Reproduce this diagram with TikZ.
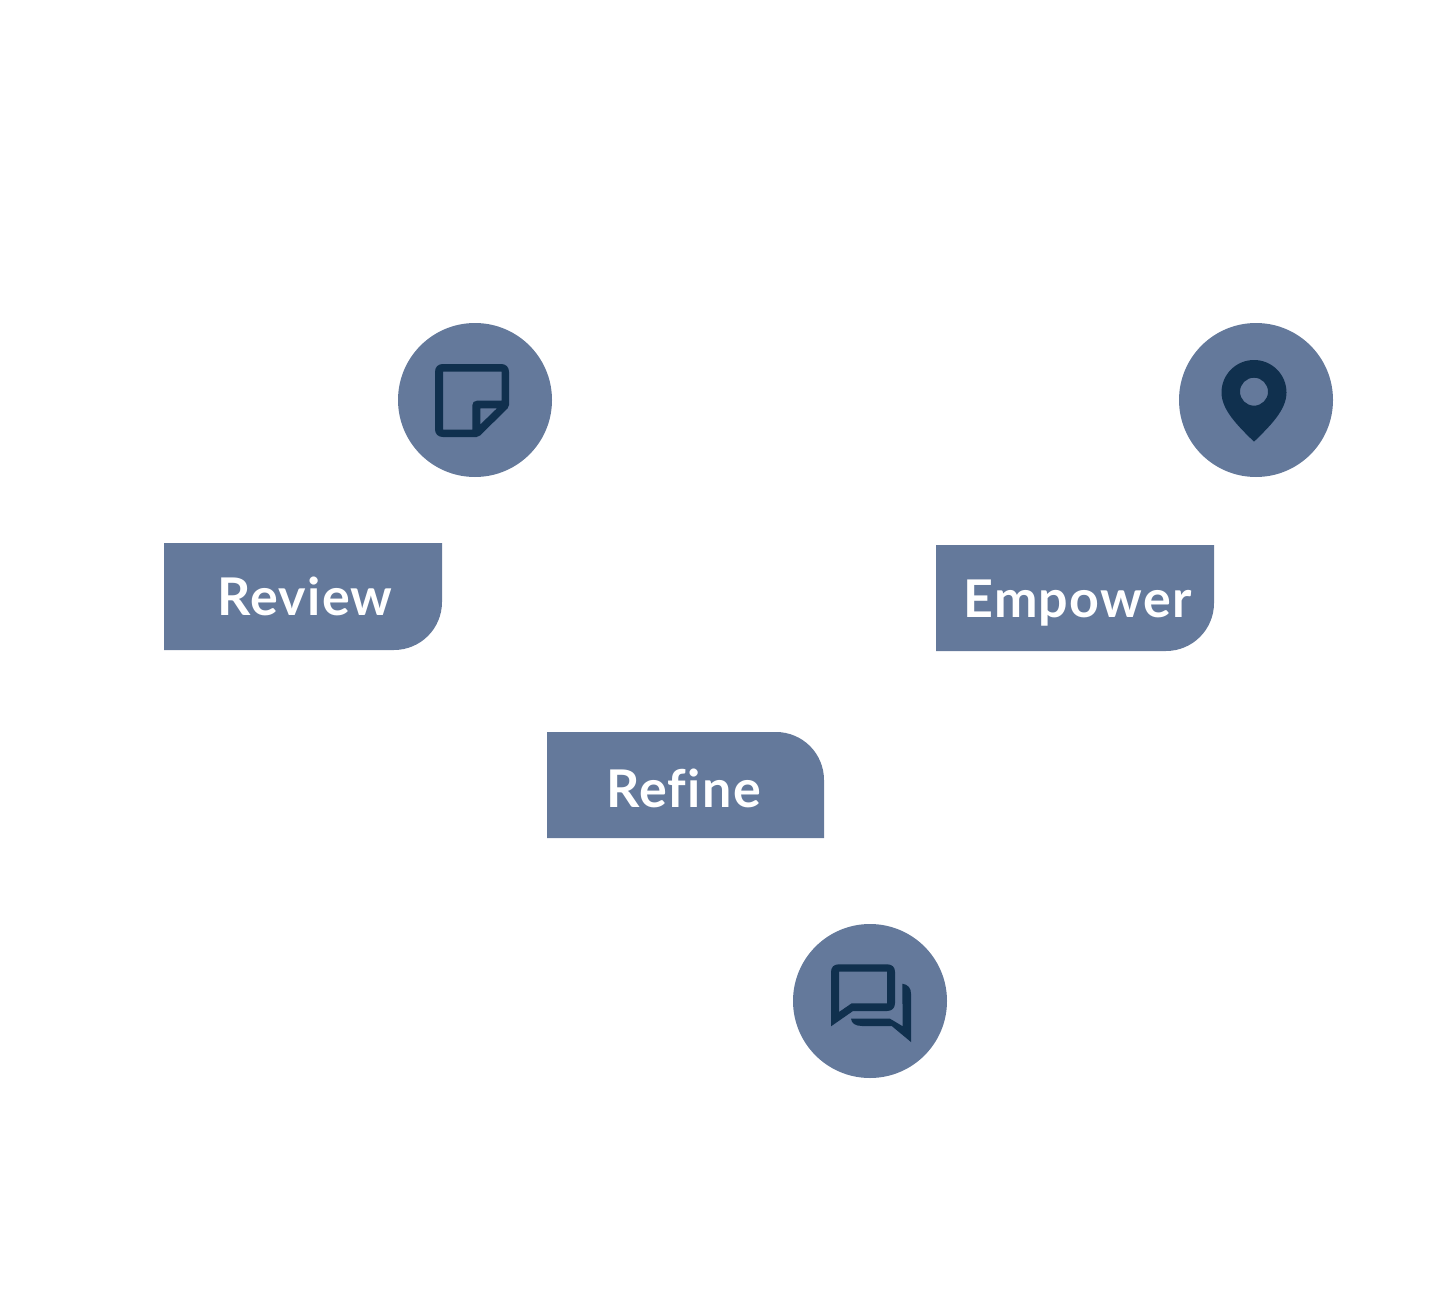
\documentclass[tikz,border=0pt]{standalone}
\usepackage{fontspec}
\setmainfont{Lato}[LetterSpace=2.5,Ligatures=NoCommon]
\usepackage{tikz}
\usetikzlibrary{calc}
\definecolor{slate}{HTML}{64799B}
\definecolor{ink}{HTML}{10304E}
\tikzset{
  iconbg/.style={circle,fill=slate,minimum size=154pt,inner sep=0pt},
  tagfill/.style={fill=slate},
  taglabel/.style={text=white,font=\fontsize{52}{60}\selectfont\bfseries,inner sep=0pt,anchor=base}
}
\begin{document}
\begin{tikzpicture}[x=1pt,y=-1pt]
      \useasboundingbox (0,0) rectangle (1440,1300);
      % icon discs
      \foreach \name/\cx/\cy in {note/475/400, pin/1256/400, chat/870/1001} {
          \node[iconbg] (\name) at (\cx,\cy) {};
      }
      % tags
      \fill[tagfill] (164,543) -- (442,543) -- (442,602) arc[start angle=0,end angle=90,radius=48] -- (164,650) -- cycle;
      \fill[tagfill] (936,545) -- (1214,545) -- (1214,603) arc[start angle=0,end angle=90,radius=48] -- (936,651) -- cycle;
      \fill[tagfill] (547,732) -- (776,732) arc[start angle=-90,end angle=0,radius=48] -- (824,838) -- (547,838) -- cycle;
      \node[taglabel] (review) at (305,615) {Review};
      \node[taglabel] (empower) at (1077.5,617) {Empower};
      \node[taglabel] (refine) at (683.5,807.5) {Refine};
      % note icon
      \fill[ink,even odd rule] (443,364) -- (501,364) .. controls (506,364) and (509,367) .. (509,372)
          -- (509,405) .. controls (509,406.5) and (508.5,407.5) .. (507.5,408.5)
          -- (480,435.5) .. controls (479,436.5) and (478,437) .. (476.5,437)
          -- (443,437) .. controls (438,437) and (435,434) .. (435,429) -- (435,372) .. controls (435,367) and (438,364) .. (443,364) -- cycle
          (443,371.7) -- (501.7,371.7) -- (501.7,400.7) -- (477,400.7) .. controls (474,400.7) and (472.3,402.5) .. (472.3,405.5)
          -- (472.3,429.500) -- (443,429.500) -- cycle
          (480.3,408.3) -- (497,408.3) -- (480.3,424.5) -- cycle;
      % pin icon
      \fill[ink,even odd rule] (1254,441.7) .. controls (1238,426) and (1221.5,410) .. (1221.5,392.5)
          arc[start angle=180,end angle=360,radius=32.5]
          .. controls (1286.5,410) and (1270,426) .. (1254,441.7) -- cycle
          (1268,391.7) arc[start angle=0,end angle=360,radius=14];
      % chat icon
      \fill[ink,even odd rule] (831,1026.3) -- (831,972) .. controls (831,967) and (834,964.3) .. (839,964.3)
          -- (887,964.3) .. controls (892,964.3) and (895,967) .. (895,972)
          -- (895,1003) .. controls (895,1008) and (892,1011) .. (887,1011) -- (853,1011) -- cycle
          (839,1012) -- (851.7,1003.3) -- (887,1003.3) -- (887,971.7) -- (839,971.7) -- cycle;
      \fill[ink] (902.3,983.7) .. controls (908,984.5) and (911,988) .. (911,993.7) -- (911,1042)
          -- (891.7,1026) -- (862,1026) .. controls (855,1026) and (851.5,1023) .. (851,1018.7)
          -- (890,1018.7) -- (902.7,1026.3) -- cycle;
\end{tikzpicture}
\end{document}
